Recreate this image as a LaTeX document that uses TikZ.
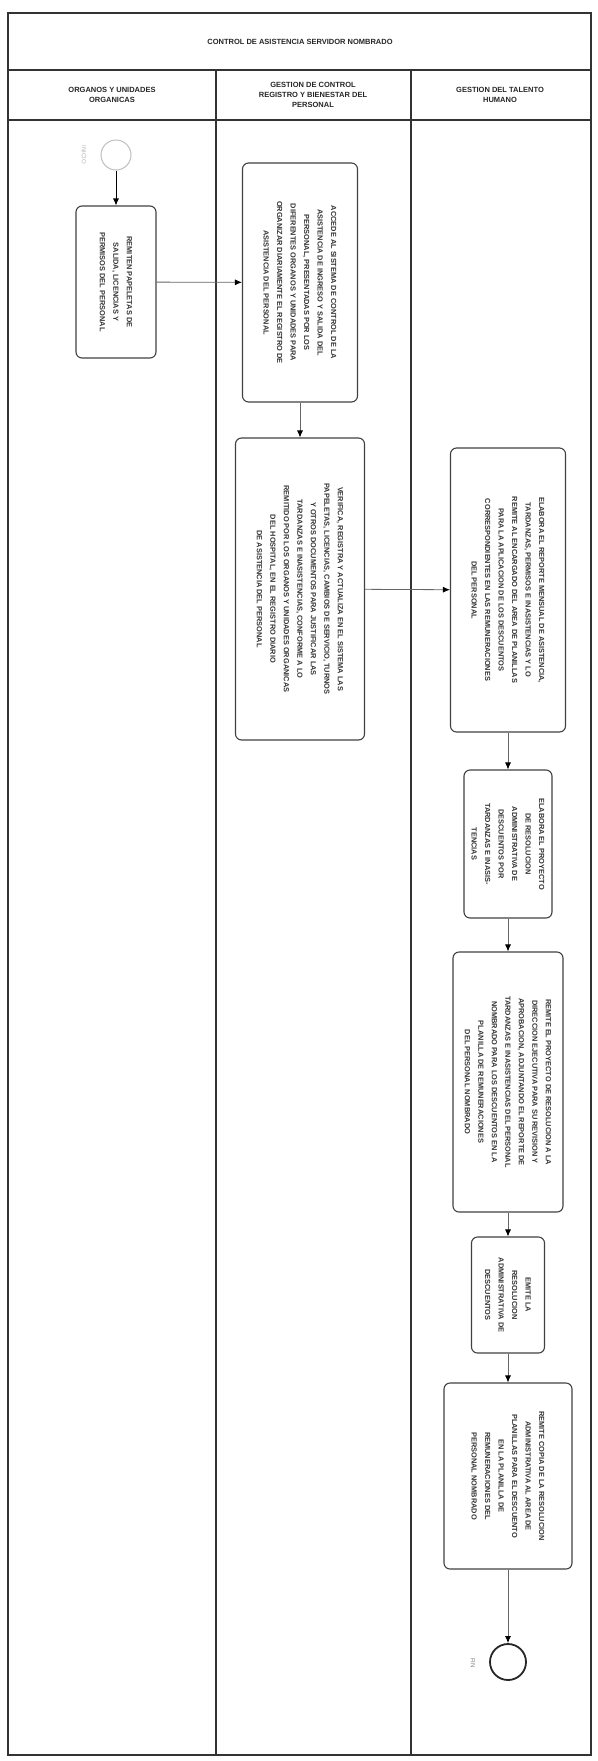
\documentclass[tikz,border=0pt]{standalone}
\usepackage{fontspec}
\setmainfont{Liberation Sans}
\usetikzlibrary{arrows.meta}
\begin{document}
\begin{tikzpicture}[x=1pt,y=-1pt,
  frame/.style={draw=black!80, line width=1.3pt},
  head/.style={font=\bfseries\fontsize{7.5}{10}\selectfont, text=black!85, align=center},
  box/.style={draw=black!75, line width=1.1pt, rounded corners=6pt, rotate=-90, align=center,
    font=\bfseries\fontsize{7.4}{13.5}\selectfont, text=black!80, inner sep=2pt},
  arr/.style={draw=black!60, line width=0.8pt, -{Latex[length=7pt,width=6pt,color=black]}},
  faint/.style={draw=black!25, line width=1pt}]
\useasboundingbox (0,0) rectangle (597,1761);
% frame and lanes
\draw[frame] (8,13) rectangle (591,1755);
\draw[frame] (8,70) -- (591,70);
\draw[frame] (8,120) -- (591,120);
\draw[frame] (216,70) -- (216,1755);
\draw[frame] (411,70) -- (411,1755);
% headers
\node[head] (title) at (300,42) {CONTROL DE ASISTENCIA SERVIDOR NOMBRADO};
\node[head] (h1) at (112,95) {ORGANOS Y UNIDADES\\ORGANICAS};
\node[head] (h2) at (313,95) {GESTION DE CONTROL\\REGISTRO Y BIENESTAR DEL\\PERSONAL};
\node[head] (h3) at (500,95) {GESTION DEL TALENTO\\HUMANO};
% start
\node[faint, circle, minimum size=30pt, inner sep=0pt] (start) at (116,155) {};
\node[rotate=-90, text=black!30, font=\fontsize{6}{7}\selectfont] (startlbl) at (84,155) {INICIO};
% boxes
\node[box, minimum width=152pt, minimum height=80pt] (b1) at (116,282)
 {REMITEN PAPELETAS DE\\SALIDA, LICENCIAS Y\\PERMISOS DEL PERSONAL};
\node[box, minimum width=239pt, minimum height=115pt] (b2) at (300,282.5)
 {ACCEDE AL SISTEMA DE CONTROL DE LA\\ASISTENCIA DE INGRESO Y SALIDA DEL\\PERSONAL, PRESENTADAS POR LOS\\DIFERENTES ORGANOS Y UNIDADES PARA\\ORGANIZAR DIARIAMENTE EL REGISTRO DE\\ASISTENCIA DEL PERSONAL};
\node[box, minimum width=302pt, minimum height=129pt] (b3) at (300,589)
 {VERIFICA, REGISTRA Y ACTUALIZA EN EL SISTEMA LAS\\PAPELETAS, LICENCIAS, CAMBIOS DE SERVICIO, TURNOS\\Y OTROS DOCUMENTOS PARA JUSTIFICAR LAS\\TARDANZAS E INASISTENCIAS, CONFORME A LO\\REMITIDO POR LOS ORGANOS Y UNIDADES ORGANICAS\\DEL HOSPITAL, EN EL REGISTRO DIARIO\\DE ASISTENCIA DEL PERSONAL};
\node[box, minimum width=284pt, minimum height=115pt] (b4) at (508,590)
 {ELABORA EL REPORTE MENSUAL DE ASISTENCIA,\\TARDANZAS, PERMISOS E INASISTENCIAS Y LO\\REMITE AL ENCARGADO DEL AREA DE PLANILLAS\\PARA LA APLICACION DE LOS DESCUENTOS\\CORRESPONDIENTES EN LAS REMUNERACIONES\\DEL PERSONAL};
\node[box, minimum width=148pt, minimum height=88pt] (b5) at (508,844)
 {ELABORA EL PROYECTO\\DE RESOLUCION\\ADMINISTRATIVA DE\\DESCUENTOS POR\\TARDANZAS E INASIS-\\TENCIAS};
\node[box, minimum width=260pt, minimum height=110pt] (b6) at (508,1082)
 {REMITE EL PROYECTO DE RESOLUCION A LA\\DIRECCION EJECUTIVA PARA SU REVISION Y\\APROBACION, ADJUNTANDO EL REPORTE DE\\TARDANZAS E INASISTENCIAS DEL PERSONAL\\NOMBRADO PARA LOS DESCUENTOS EN LA\\PLANILLA DE REMUNERACIONES\\DEL PERSONAL NOMBRADO};
\node[box, minimum width=116pt, minimum height=73pt] (b7) at (508,1295)
 {EMITE LA\\RESOLUCION\\ADMINISTRATIVA DE\\DESCUENTOS};
\node[box, minimum width=186pt, minimum height=128pt] (b8) at (508,1476)
 {REMITE COPIA DE LA RESOLUCION\\ADMINISTRATIVA AL AREA DE\\PLANILLAS PARA EL DESCUENTO\\EN LA PLANILLA DE\\REMUNERACIONES DEL\\PERSONAL NOMBRADO};
% end
\node[draw=black!85, line width=1.8pt, circle, minimum size=36pt, inner sep=0pt] (end) at (508,1662) {};
\node[rotate=-90, text=black!50, font=\fontsize{6}{7}\selectfont] (endlbl) at (473,1663) {FIN};
% connectors
\draw[arr, draw=black] (start) -- (b1.west);
\draw[arr] (b1) -- (b2);
\draw[arr] (b2.east) -- (b3.west);
\draw[arr] (b3) -- (b4);
\draw[arr] (b4.east) -- (b5.west);
\draw[arr] (b5.east) -- (b6.west);
\draw[arr] (b6.east) -- (b7.west);
\draw[arr] (b7.east) -- (b8.west);
\draw[arr] (b8.east) -- (end);
\end{tikzpicture}
\end{document}
